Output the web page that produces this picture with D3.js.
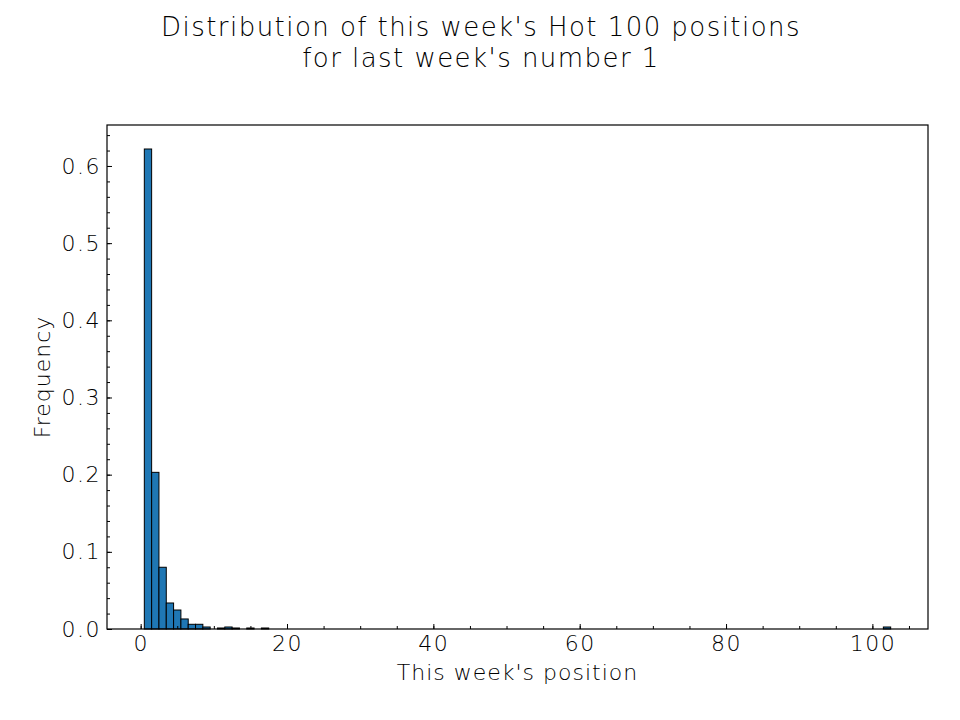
<!DOCTYPE html>
<html>
<head>
<meta charset="utf-8">
<script src="https://cdn.jsdelivr.net/npm/d3@7"></script>
<style>
  body { margin: 0; background: #fff; }
  svg text { font-family: "DejaVu Sans", sans-serif; font-weight: 200; fill: #000; }
</style>
</head>
<body>
<div id="chart"><svg></svg></div>
<script>
// chart size
var W = 960, H = 720;
// margins (axes box)
var T = 125, L = 107, R = 32, B = 91;

// histogram bins (positions, width 1, centred on the integer), non-empty only
var positions = [1, 2, 3, 4, 5, 6, 7, 8, 9, 11, 12, 13, 15, 17, 102];
var freqs = [0.622, 0.203, 0.080, 0.0337, 0.0246, 0.013, 0.0061, 0.0061, 0.0026,
             0.0013, 0.0026, 0.0013, 0.0013, 0.0013, 0.0026];
var xTicks = [0, 20, 40, 60, 80, 100];
var yTicks = [0.0, 0.1, 0.2, 0.3, 0.4, 0.5, 0.6];
var titleLines = ["Distribution of this week's Hot 100 positions", "for last week's number 1"];

var svg = d3.select("#chart svg").attr("width", W).attr("height", H);
var iw = W - L - R, ih = H - T - B;

var x = d3.scaleLinear().domain([-4.6, 107.6]).range([0, iw]);
var y = d3.scaleLinear().domain([0, d3.max(freqs) * 1.05]).range([ih, 0]);

var g = svg.append("g").attr("transform", "translate(" + L + "," + T + ")");

// bars
g.append("g").attr("class", "data")
    .selectAll("rect").data(positions)
    .enter().append("rect")
    .attr("x", function(d) { return x(d - 0.5); })
    .attr("width", function(d) { return x(d + 0.5) - x(d - 0.5); })
    .attr("y", function(d, i) { return y(freqs[i]); })
    .attr("height", function(d, i) { return ih - y(freqs[i]); })
    .attr("fill", "#1f77b4")
    .attr("stroke", "#000")
    .attr("stroke-width", 1);

// x axis: ticks inward, minor every 5
var gx = g.append("g").attr("transform", "translate(0," + ih + ")");
gx.call(d3.axisBottom(x).tickValues(d3.range(0, 106, 5)).tickSize(-3).tickFormat(""));
gx.append("g").call(d3.axisBottom(x).tickValues(xTicks).tickSize(-5).tickPadding(6)
    .tickFormat(d3.format("d")));
// y axis, minor every 0.02
var gy = g.append("g");
gy.call(d3.axisLeft(y).tickValues(d3.range(0, 0.651, 0.02)).tickSize(-3).tickFormat(""));
gy.append("g").call(d3.axisLeft(y).tickValues(yTicks).tickSize(-5).tickPadding(6)
    .tickFormat(d3.format(".1f")));

g.selectAll(".domain").remove();
g.selectAll(".tick line").attr("stroke", "#000").attr("stroke-width", 1);
g.selectAll(".tick text").attr("font-size", 22)
    .style("font-family", "'DejaVu Sans', sans-serif").style("font-weight", 200)
    .style("letter-spacing", "1.5px");

// frame
g.append("rect").attr("width", iw).attr("height", ih)
    .attr("fill", "none").attr("stroke", "#000").attr("stroke-width", 1.2);

// labels
svg.append("text").attr("x", L + iw / 2).attr("y", 680)
    .attr("text-anchor", "middle").attr("font-size", 22)
    .style("letter-spacing", "1px").text("This week's position");
svg.append("text").attr("transform", "translate(50," + (T + ih / 2) + ") rotate(-90)")
    .attr("text-anchor", "middle").attr("font-size", 22)
    .style("letter-spacing", "1px").text("Frequency");

svg.append("g").selectAll("text").data(titleLines)
    .enter().append("text")
    .attr("x", 481).attr("y", function(d, i) { return 36 + i * 31; })
    .attr("text-anchor", "middle").attr("font-size", 26)
    .style("letter-spacing", "1.45px")
    .text(function(d) { return d; });
</script>
</body>
</html>
